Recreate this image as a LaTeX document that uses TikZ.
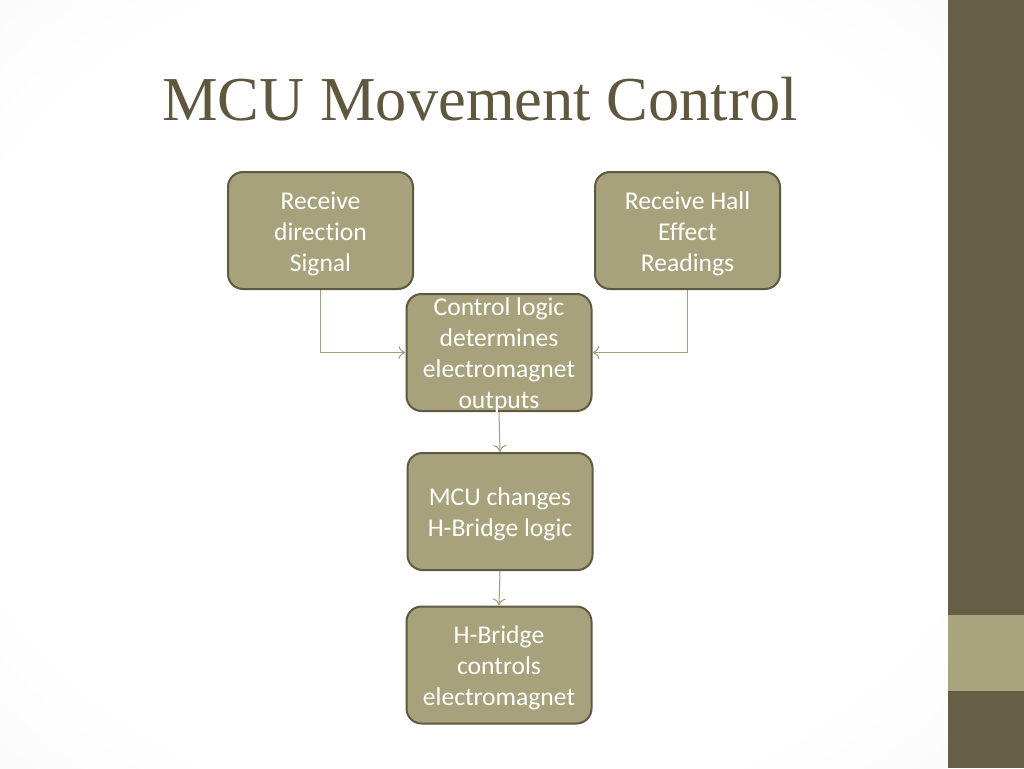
\documentclass[tikz,border=0pt]{standalone}
\usepackage{fontspec}
\setmainfont{Carlito}[Ligatures=NoCommon]
\newfontfamily\titlefont{Liberation Serif}
\usetikzlibrary{arrows.meta}
\definecolor{boxfill}{HTML}{A7A27B}
\definecolor{boxedge}{HTML}{5E5940}
\definecolor{side}{HTML}{665E47}
\definecolor{sidelight}{HTML}{A8A47D}
\definecolor{titlecol}{HTML}{5F583F}
\definecolor{linkcol}{HTML}{A19D7A}
\pgfdeclareradialshading{vign}{\pgfpoint{0bp}{0bp}}{color(0bp)=(white); color(28bp)=(white); color(50bp)=(black!5); color(72bp)=(black!11)}
\newcommand\boxlines[1]{\raisebox{0pt}[\height][\dimexpr\depth-7pt\relax]{\begin{tabular}{@{}c@{}}#1\end{tabular}}}
\tikzset{
  box/.style={draw=boxedge, line width=2pt, fill=boxfill, rounded corners=15pt,
    minimum width=185pt, minimum height=117pt, inner sep=0pt,
    text=white, font=\fontsize{25.6}{31}\selectfont},
  link/.style={draw=linkcol, line width=1pt, -{To[length=7pt,width=13pt]}}
}
\begin{document}
\begin{tikzpicture}[x=1pt,y=-1pt]
\useasboundingbox (0,0) rectangle (1024,768);
\shade[shading=vign] (0,0) rectangle (948,768);
\fill[side] (948,0) rectangle (1024,768);
\fill[sidelight] (948,615) rectangle (1024,691);
\node[anchor=base west, inner sep=0pt, text=titlecol, font=\titlefont\fontsize{62.5}{68}\selectfont] (title) at (162,120) {MCU Movement Control};
\node[box] (b1) at (320.5,230.5) {\boxlines{Receive\\direction\\Signal}};
\node[box] (b2) at (687.5,230.5) {\boxlines{Receive Hall\\Effect\\Readings}};
\node[box] (b3) at (499,352.5) {\boxlines{Control logic\\determines\\electromagnet\\outputs}};
\node[box] (b4) at (500,511.5) {\boxlines{MCU changes\\H-Bridge logic}};
\node[box] (b5) at (499,665) {\boxlines{H-Bridge\\controls\\electromagnet}};
\draw[link] (b1.south) |- (b3.west);
\draw[link] (b2.south) |- (b3.east);
\draw[link] (b3.south) -- (b4.north);
\draw[link] (b4.south) -- (b5.north);
\end{tikzpicture}
\end{document}
